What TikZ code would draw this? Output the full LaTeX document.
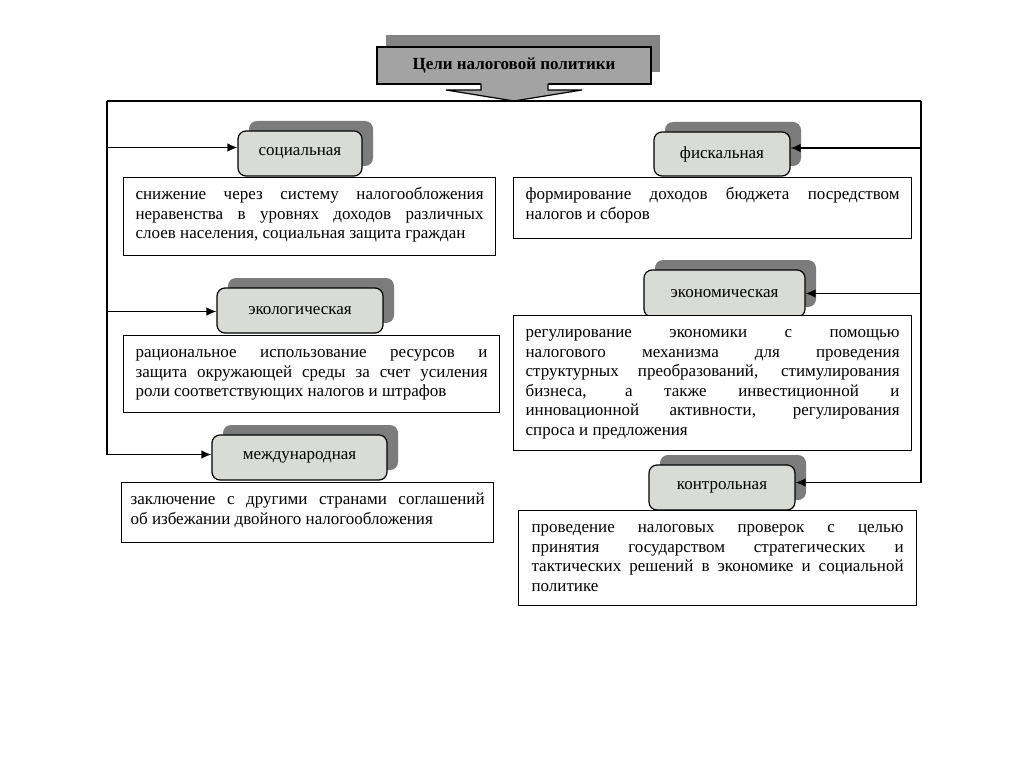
\documentclass[tikz,border=0pt]{standalone}
\usepackage{fontspec}
\setmainfont{Liberation Serif}
\usetikzlibrary{arrows.meta,shadows}
\definecolor{lblfill}{HTML}{D9DBD7}
\definecolor{lblshadow}{HTML}{7C7C7C}
\definecolor{ttlfill}{HTML}{A3A3A3}
\definecolor{ttlshadow}{HTML}{838383}
\newcommand\desctext[3]{\parbox[c][#2][t]{#1}{\hyphenpenalty=10000\exhyphenpenalty=10000\tolerance=9999\rule{0pt}{22pt}#3}}
\tikzset{
  ln/.style={line width=1.2pt, draw=black},
  arr/.style={ln, -{Latex[length=10pt,width=8.5pt]}},
  lbl/.style={draw=black, line width=1.2pt, fill=lblfill, rounded corners=8pt, inner sep=0pt,
    font=\fontsize{17}{19.5}\selectfont,
    copy shadow={shadow xshift=11pt, shadow yshift=10pt, fill=lblshadow, draw=none}},
  descbox/.style={draw=black, line width=1.2pt, fill=white, inner xsep=12pt, inner ysep=0pt,
    anchor=north west, font=\fontsize{17}{19.5}\selectfont},
  ttl/.style={draw=black, line width=1.2pt, fill=ttlfill, inner sep=0pt,
    font=\fontsize{17}{20}\selectfont\bfseries,
    copy shadow={shadow xshift=9pt, shadow yshift=12pt, fill=ttlshadow, draw=none}}
}
\begin{document}
\begin{tikzpicture}[x=1pt,y=-1pt]
\useasboundingbox[fill=white] (0,0) rectangle (1024,767);
% title
\node[ttl, minimum width=274pt, minimum height=37pt] (title) at (514,65.5) {Цели налоговой политики};
\fill[ttlfill] (481,82) -- (481,90) -- (446,90) -- (514,101) -- (582,90) -- (548,90) -- (548,82) -- cycle;
\draw[ln] (481,84) -- (481,90) -- (446,90) -- (514,101) -- (582,90) -- (548,90) -- (548,84);
% trunk
\coordinate (tl) at (107,101);
\coordinate (tr) at (921,101);
\draw[ln] (tl) -- (tr);
% label boxes
\node[lbl, minimum width=124pt, minimum height=45pt] (soc) at (300,153.5) {социальная};
\node[lbl, minimum width=136pt, minimum height=44pt] (fis) at (722,154) {фискальная};
\node[lbl, minimum width=166pt, minimum height=45pt] (ecol) at (300,310.5) {экологическая};
\node[lbl, minimum width=161pt, minimum height=47pt] (econ) at (724.5,293.5) {экономическая};
\node[lbl, minimum width=175pt, minimum height=45pt] (intl) at (299.5,457.5) {международная};
\node[lbl, minimum width=146pt, minimum height=45pt] (ctrl) at (722,487.5) {контрольная};
% description boxes
\node[descbox] (dsoc) at (123,177) {\desctext{348pt}{78pt}{снижение через систему налогообложения\linebreak неравенства в уровнях доходов различных\linebreak слоев населения, социальная защита граждан}};
\node[descbox] (dfis) at (513,177) {\desctext{374pt}{61pt}{формирование доходов бюджета посредством\linebreak налогов и сборов}};
\node[descbox] (decol) at (123,335) {\desctext{352pt}{77pt}{рациональное использование ресурсов и\linebreak защита окружающей среды за счет усиления\linebreak роли соответствующих налогов и штрафов}};
\node[descbox] (decon) at (513,315) {\desctext{374pt}{135pt}{регулирование экономики с помощью\linebreak налогового механизма для проведения\linebreak структурных преобразований, стимулирования\linebreak бизнеса, а также инвестиционной и\linebreak инновационной активности, регулирования\linebreak спроса и предложения}};
\node[descbox, inner xsep=9pt] (dintl) at (121,482) {\desctext{354pt}{60pt}{заключение с другими странами соглашений\linebreak об избежании двойного налогообложения}};
\node[descbox, inner xsep=13pt] (dctrl) at (518,510) {\desctext{372pt}{95pt}{проведение налоговых проверок с целью\linebreak принятия государством стратегических и\linebreak тактических решений в экономике и социальной\linebreak политике}};
% connectors
\coordinate (sa) at ([yshift=6pt]soc.west);
\coordinate (fa) at ([yshift=6pt]fis.east);
\coordinate (ea) at ([yshift=-1pt]ecol.west);
\coordinate (na) at (econ.east);
\coordinate (ia) at ([yshift=3pt]intl.west);
\coordinate (ca) at ([yshift=5pt]ctrl.east);
\draw[arr] (tl) -- (ia -| tl) -- (ia);
\draw[arr] (sa -| tl) -- (sa);
\draw[arr] (ea -| tl) -- (ea);
\draw[arr] (tr) -- (ca -| tr) -- (ca);
\draw[arr] (fa -| tr) -- (fa);
\draw[arr] (na -| tr) -- (na);
\end{tikzpicture}
\end{document}
